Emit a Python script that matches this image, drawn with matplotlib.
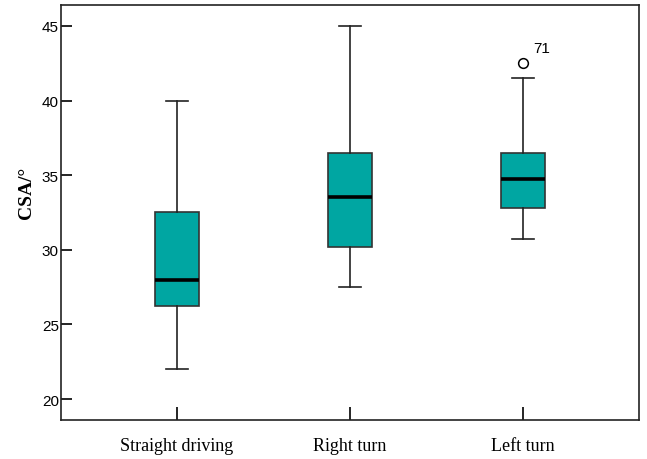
import matplotlib
matplotlib.use("Agg")
import matplotlib.pyplot as plt

# box statistics per driving condition
categories = ["Straight driving", "Right turn", "Left turn"]
whisker_low = [22.0, 27.5, 30.7]
q1 = [26.25, 30.2, 32.8]
median = [28.0, 33.55, 34.75]
q3 = [32.5, 36.5, 36.5]
whisker_high = [40.0, 45.0, 41.5]
outliers = [[], [], [42.5]]
outlier_ids = [[], [], ["71"]]

yticks = [20, 25, 30, 35, 40, 45]

stats = []
for i, name in enumerate(categories):
    stats.append({
        "label": name,
        "whislo": whisker_low[i],
        "q1": q1[i],
        "med": median[i],
        "q3": q3[i],
        "whishi": whisker_high[i],
        "fliers": outliers[i],
    })

fig = plt.figure(figsize=(6.47, 4.60), dpi=100)
ax = fig.add_axes([0.0943, 0.085, 0.8933, 0.902])

positions = [1, 2, 3]
ax.bxp(stats, positions=positions, widths=0.25, capwidths=0.13,
       patch_artist=True,
       boxprops=dict(facecolor="#00A6A2", edgecolor="#333333", linewidth=1.2),
       medianprops=dict(color="black", linewidth=2.6),
       whiskerprops=dict(color="#222222", linewidth=1.2),
       capprops=dict(color="#222222", linewidth=1.2),
       flierprops=dict(marker="o", markerfacecolor="white",
                       markeredgecolor="black", markersize=7,
                       markeredgewidth=1.1))

# case numbers beside outliers
for i, pos in enumerate(positions):
    for val, lab in zip(outliers[i], outlier_ids[i]):
        ax.annotate(lab, (pos, val), xytext=(7, 6), textcoords="offset points",
                    fontsize=11, fontfamily="Liberation Sans", va="bottom")

ax.set_xlim(0.33, 3.67)
ax.set_ylim(18.6, 46.4)
ax.set_yticks(yticks)
ax.set_xticks(positions)
ax.set_xticklabels(categories, fontfamily="Liberation Serif", fontsize=13)
for t in ax.get_yticklabels():
    t.set_fontfamily("Liberation Sans")
    t.set_fontsize(11)

ax.tick_params(axis="y", direction="in", length=8, width=1.2, pad=1.5)
ax.tick_params(axis="x", direction="in", length=9.5, width=1.2, pad=12)

ax.set_ylabel("CSA/°", fontfamily="Liberation Serif", fontweight="bold",
              fontsize=14, labelpad=5, y=0.55)

for sp in ax.spines.values():
    sp.set_linewidth(1.2)
    sp.set_color("#222222")

fig.savefig("out.png", dpi=100)
